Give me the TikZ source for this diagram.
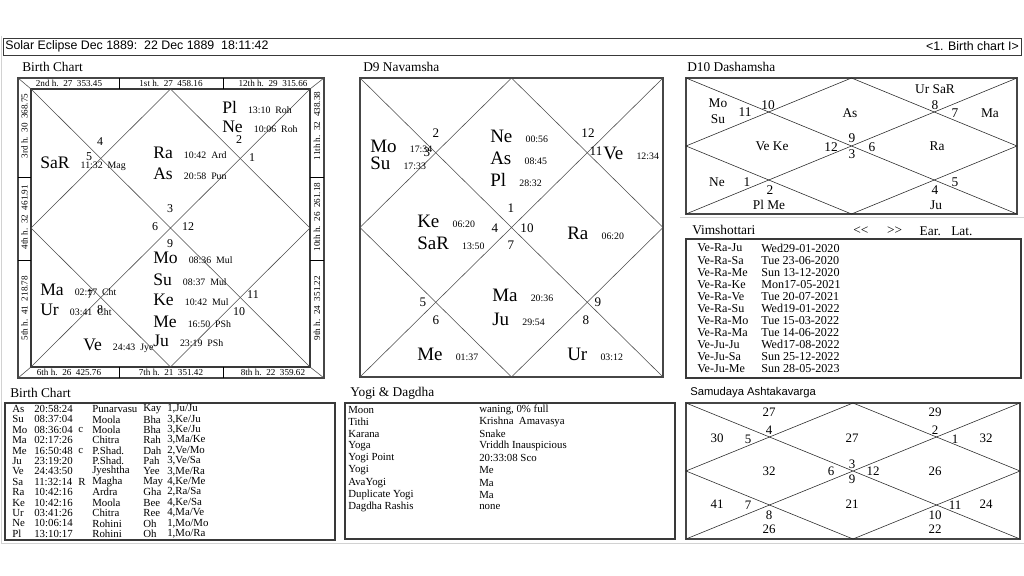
\documentclass[tikz,border=0pt]{standalone}
\usepackage{fontspec}
\setmainfont{Liberation Serif}
\setsansfont{Liberation Sans}
\usetikzlibrary{positioning}

\begin{document}
\begin{tikzpicture}[x=0.025cm, y=-0.025cm,
		rahmen/.style={draw=gray!55!black, line width=1.3pt},
		kasten/.style={draw=gray!45!black, line width=0.8pt},
		linie/.style={draw=gray!60!black, line width=0.4pt},
		titel/.style={anchor=west, inner sep=0pt, font=\fontsize{9.5}{11}\selectfont},
		kopf/.style={inner sep=0pt, font=\sffamily\fontsize{8.8}{10}\selectfont},
		haus/.style={inner sep=0pt, font=\fontsize{6.5}{7}\selectfont},
		planet/.style={anchor=base west, inner sep=0pt, font=\fontsize{12.5}{14}\selectfont},
		planetg/.style={anchor=base west, inner sep=0pt, font=\fontsize{13.5}{15}\selectfont},
		grad/.style={inner sep=0pt, font=\fontsize{7}{8}\selectfont},
		zahl/.style={inner sep=0pt, font=\fontsize{8.5}{10}\selectfont},
		zahlg/.style={inner sep=0pt, font=\fontsize{9.3}{10}\selectfont},
		dzehn/.style={inner sep=0pt, font=\fontsize{9.5}{10}\selectfont},
		tab/.style={anchor=west, inner sep=0pt, font=\fontsize{7.7}{8}\selectfont},
		vim/.style={anchor=west, inner sep=0pt, font=\fontsize{8.6}{9}\selectfont}]

		% Hintergrund
		\useasboundingbox (0,0) rectangle (1024,576);
		\fill[white] (0,0) rectangle (1024,576);
		\draw[gray!35, line width=0.6pt] (1.5,36) -- (1.5,543) -- (1024,543);
		\draw[gray!35, line width=0.6pt] (680,217) -- (1024,217);

		% --- Kopfzeile ---
		\draw[kasten, line width=0.6pt] (3,38) rectangle (1021,55);
		\node[kopf, anchor=west] (kopfL) at (5,46.5) {Solar Eclipse Dec 1889:\ \ 22 Dec 1889\ \ 18:11:42};
		\node[kopf, anchor=east] (kopfR) at (1019,46.5) {<1. Birth chart I>};

		% --- Birth Chart (Rasi) ---
		\node[titel] (rasiTitel) at (22,67) {Birth Chart};
		\coordinate (rA) at (18,78);   \coordinate (rB) at (324,78);
		\coordinate (rC) at (324,378); \coordinate (rD) at (18,378);
		\coordinate (r1) at (31,89);   \coordinate (r2) at (310,89);
		\coordinate (r3) at (310,367); \coordinate (r4) at (31,367);
		\coordinate (rN) at (170.5,89);  \coordinate (rO) at (310,228);
		\coordinate (rS) at (170.5,367); \coordinate (rW) at (31,228);
		\draw[rahmen] (rA) rectangle (rC);
		\draw[kasten] (r1) rectangle (r3);
		\draw[linie] (rA) -- (r1) (rB) -- (r2) (rC) -- (r3) (rD) -- (r4);
		\foreach \x in {119,223} {
			\draw[linie, draw=black] (\x,78) -- (\x,89) (\x,367) -- (\x,378);
		}
		\foreach \y in {177,260} {
			\draw[linie, draw=black] (18,\y) -- (31,\y) (310,\y) -- (324,\y);
		}
		\draw[linie] (r1) -- (r3) (r2) -- (r4);
		\draw[linie] (rN) -- (rO) -- (rS) -- (rW) -- cycle;

		% Haeuser am Rand
		\foreach \x/\t [count=\i] in {69/{2nd h.~~27~~353.45}, 171/{1st h.~~27~~458.16}, 273/{12th h.~~29~~315.66}}
			\node[haus] (hausO\i) at (\x,83.5) {\t};
		\foreach \x/\t [count=\i] in {69/{6th h.~~26~~425.76}, 171/{7th h.~~21~~351.42}, 273/{8th h.~~22~~359.62}}
			\node[haus] (hausU\i) at (\x,372.5) {\t};
		\foreach \y/\t [count=\i] in {126/{3rd h.~~30~~368.75}, 217/{4th h.~~32~~461.91}, 308/{5th h.~~41~~218.78}}
			\node[haus, rotate=90] (hausL\i) at (24.5,\y) {\t};
		\foreach \y/\t [count=\i] in {126/{11th h.~~32~~438.38}, 217/{10th h.~~26~~261.18}, 308/{9th h.~~24~~351.22}}
			\node[haus, rotate=90] (hausR\i) at (317,\y) {\t};

		% Planeten
		\foreach \x/\y/\p/\g in {222/114/Pl/{13:10~~Roh}, 222/133/Ne/{10:06~~Roh}, 40/169/SaR/{11:32~~Mag},
				153/159/Ra/{10:42~~Ard}, 153/180/As/{20:58~~Pun}, 153/264/Mo/{08:36~~Mul},
				153/286/Su/{08:37~~Mul}, 153/306/Ke/{10:42~~Mul}, 153/327/Me/{16:50~~PSh},
				153/347/Ju/{23:19~~PSh}, 83/351/Ve/{24:43~~Jye}, 40/296/Ma/{02:17~~Cht}, 40/316/Ur/{03:41~~Cht}} {
			\node[planet] (r-\p) at (\x,\y) {\p};
			\node[grad, base right=7.5pt of r-\p] (r-\p-g) {\g};
		}
		\foreach \x/\y/\t in {100/142/4, 89/157/5, 239/140/2, 252/158/1, 170/209/3, 155/227/6,
				188/227/12, 170/244/9, 90/295/7, 100/310/8, 253/295/11, 239/312/10}
			\node[zahl] (rz-\t) at (\x,\y) {\t};

		% --- D9 Navamsha ---
		\node[titel] (navTitel) at (363,67) {D9 Navamsha};
		\coordinate (nA) at (360,78);  \coordinate (nB) at (663,78);
		\coordinate (nC) at (663,377); \coordinate (nD) at (360,377);
		\coordinate (nN) at (511.5,78);  \coordinate (nO) at (663,227.5);
		\coordinate (nS) at (511.5,377); \coordinate (nW) at (360,227.5);
		\draw[rahmen] (nA) rectangle (nC);
		\draw[linie] (nA) -- (nC) (nB) -- (nD);
		\draw[linie] (nN) -- (nO) -- (nS) -- (nW) -- cycle;
		\foreach \x/\y/\p/\g in {370/153/Mo/{17:34}, 370/170/Su/{17:33}, 490/143/Ne/{00:56}, 490/165/As/{08:45},
				490/187/Pl/{28:32}, 603/160/Ve/{12:34}, 417/228/Ke/{06:20}, 417/250/SaR/{13:50},
				567/240/Ra/{06:20}, 492/302/Ma/{20:36}, 492/325/Ju/{29:54}, 417/360/Me/{01:37}, 567/360/Ur/{03:12}} {
			\node[planetg] (n-\p) at (\x,\y) {\p};
			\node[grad, base right=9pt of n-\p] (n-\p-g) {\g};
		}
		\foreach \x/\y/\t in {436/133/2, 427/152/3, 588/133/12, 596/151/11, 511/208/1, 495/228/4,
				527/228/10, 511/245/7, 423/302/5, 436/320/6, 598/302/9, 586/320/8}
			\node[zahlg] (nz-\t) at (\x,\y) {\t};

		% --- D10 Dashamsha ---
		\node[titel] (dasTitel) at (687,67) {D10 Dashamsha};
		\coordinate (dA) at (686,78);   \coordinate (dB) at (1017,78);
		\coordinate (dC) at (1017,214); \coordinate (dD) at (686,214);
		\coordinate (dN) at (851.5,78);  \coordinate (dO) at (1017,146);
		\coordinate (dS) at (851.5,214); \coordinate (dW) at (686,146);
		\draw[rahmen] (dA) rectangle (dC);
		\draw[linie, draw=gray!30!black] (dA) -- (dC) (dB) -- (dD);
		\draw[linie, draw=gray!30!black] (dN) -- (dO) -- (dS) -- (dW) -- cycle;
		\foreach \x/\y/\t [count=\i] in {935/89/{Ur SaR}, 718/103/Mo, 718/119/Su, 745/112/11, 768/105/10,
				850/113/As, 935/105/8, 955/113/7, 990/113/Ma, 772/146/{Ve Ke}, 831/147/12, 852/138/9,
				852/154/3, 872/147/6, 937/146/Ra, 717/182/Ne, 747/182/1, 770/190/2, 769/205/{Pl Me},
				935/190/4, 955/182/5, 936/205/Ju}
			\node[dzehn] (d-\i) at (\x,\y) {\t};

		% --- Vimshottari ---
		\node[titel] (vimTitel) at (692,230) {Vimshottari};
		\node[titel] (vimZur) at (853,231) {\symbol{60}\symbol{60}};
		\node[titel, right=13pt of vimZur] (vimVor) {\symbol{62}\symbol{62}};
		\node[titel, right=12pt of vimVor] (vimEar) {Ear.};
		\node[titel, right=7pt of vimEar] (vimLat) {Lat.};
		\draw[kasten] (686,239) rectangle (1021,378);
		\foreach \a/\b [count=\i] in {Ve-Ra-Ju/Wed29-01-2020, Ve-Ra-Sa/Tue 23-06-2020, Ve-Ra-Me/Sun 13-12-2020,
				Ve-Ra-Ke/Mon17-05-2021, Ve-Ra-Ve/Tue 20-07-2021, Ve-Ra-Su/Wed19-01-2022,
				Ve-Ra-Mo/Tue 15-03-2022, Ve-Ra-Ma/Tue 14-06-2022, Ve-Ju-Ju/Wed17-08-2022,
				Ve-Ju-Sa/Sun 25-12-2022, Ve-Ju-Me/Sun 28-05-2023} {
			\node[vim] (vim-\i-a) at (697,{248+(\i-1)*12.1}) {\a};
			\node[vim] (vim-\i-b) at (761,{248+(\i-1)*12.1}) {\b};
		}

		% --- Birth Chart Tabelle ---
		\node[titel] (tabTitel) at (10,393) {Birth Chart};
		\draw[kasten] (5,403) rectangle (335,540);
		\foreach \a/\b/\c/\d/\e/\f [count=\i] in {As/20:58:24//Punarvasu/Kay/{1,Ju/Ju}, Su/08:37:04//Moola/Bha/{3,Ke/Ju},
				Mo/08:36:04/c/Moola/Bha/{3,Ke/Ju}, Ma/02:17:26//Chitra/Rah/{3,Ma/Ke}, Me/16:50:48/c/P.Shad./Dah/{2,Ve/Mo},
				Ju/23:19:20//P.Shad./Pah/{3,Ve/Sa}, Ve/24:43:50//Jyeshtha/Yee/{3,Me/Ra}, Sa/11:32:14/R/Magha/May/{4,Ke/Me},
				Ra/10:42:16//Ardra/Gha/{2,Ra/Sa}, Ke/10:42:16//Moola/Bee/{4,Ke/Sa}, Ur/03:41:26//Chitra/Ree/{4,Ma/Ve},
				Ne/10:06:14//Rohini/Oh/{1,Mo/Mo}, Pl/13:10:17//Rohini/Oh/{1,Mo/Ra}} {
			\node[tab] (tab-\i-a) at (12,{409+(\i-1)*10.4}) {\a};
			\node[tab] (tab-\i-b) at (34,{409+(\i-1)*10.4}) {\b};
			\node[tab] (tab-\i-c) at (78,{409+(\i-1)*10.4}) {\c};
			\node[tab] (tab-\i-d) at (92,{409+(\i-1)*10.4}) {\d};
			\node[tab] (tab-\i-e) at (143,{409+(\i-1)*10.4}) {\e};
			\node[tab] (tab-\i-f) at (167,{409+(\i-1)*10.4}) {\f};
		}

		% --- Yogi & Dagdha ---
		\node[titel] (yogTitel) at (350,393) {Yogi \& Dagdha};
		\draw[kasten] (345,403) rectangle (675,539);
		\foreach \a/\b [count=\i] in {Moon/{waning, 0\% full}, Tithi/{Krishna~~Amavasya}, Karana/Snake,
				Yoga/{Vriddh Inauspicious}, {Yogi Point}/{20:33:08 Sco}, Yogi/Me, AvaYogi/Ma,
				{Duplicate Yogi}/Ma, {Dagdha Rashis}/none} {
			\node[tab] (yog-\i-a) at (348,{410+(\i-1)*12.1}) {\a};
			\node[tab] (yog-\i-b) at (479,{410+(\i-1)*12.1}) {\b};
		}

		% --- Samudaya Ashtakavarga ---
		\node[titel, font=\sffamily\fontsize{8}{10}\selectfont] (samTitel) at (690,393) {Samudaya Ashtakavarga};
		\coordinate (sA) at (686,403);   \coordinate (sB) at (1020,403);
		\coordinate (sC) at (1020,539);  \coordinate (sD) at (686,539);
		\coordinate (sN) at (853,403);   \coordinate (sO) at (1020,471);
		\coordinate (sS) at (853,539);   \coordinate (sW) at (686,471);
		\draw[rahmen] (sA) rectangle (sC);
		\draw[linie, draw=gray!30!black] (sA) -- (sC) (sB) -- (sD);
		\draw[linie, draw=gray!30!black] (sN) -- (sO) -- (sS) -- (sW) -- cycle;
		\foreach \x/\y/\t [count=\i] in {769/412/27, 935/412/29, 717/438/30, 748/439/5, 769/430/4, 852/438/27,
				935/430/2, 955/439/1, 986/438/32, 769/471/32, 831/471/6, 852/464/3, 852/479/9, 873/471/12,
				935/471/26, 717/504/41, 748/505/7, 769/515/8, 769/529/26, 852/504/21, 935/515/10,
				955/505/11, 986/504/24, 935/529/22}
			\node[dzehn, font=\fontsize{9.2}{10}\selectfont] (s-\i) at (\x,\y) {\t};

	\end{tikzpicture}
\end{document}
